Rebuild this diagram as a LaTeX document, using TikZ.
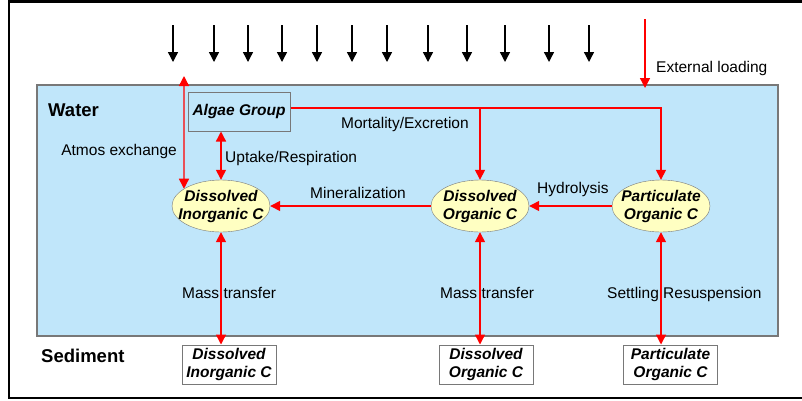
\documentclass[tikz,border=0pt]{standalone}
\usepackage{fontspec}
\setmainfont{Liberation Sans}
\usetikzlibrary{arrows.meta,shapes.geometric}
\definecolor{waterblue}{RGB}{192,230,250}
\definecolor{poolyellow}{RGB}{255,255,194}
\definecolor{edgegray}{RGB}{120,120,120}
\begin{document}
\begin{tikzpicture}[
        x=1pt, y=-1pt,
        >={Triangle[length=10pt,width=10pt]},
        every node/.style={font=\fontsize{15.5}{18}\selectfont, inner sep=0pt},
        zone/.style={font=\fontsize{18.5}{20}\selectfont\bfseries},
        poolc/.style={ellipse, draw=edgegray, fill=poolyellow, minimum width=98pt, minimum height=52pt,
            inner xsep=-10pt, inner ysep=0pt, align=center, font=\fontsize{15.5}{18}\selectfont\bfseries\itshape},
        sedbox/.style={draw=edgegray, line width=1pt, fill=white, minimum width=94pt, minimum height=39pt,
            align=center, font=\fontsize{15.5}{18}\selectfont\bfseries\itshape},
        algbox/.style={draw=edgegray, line width=1pt, fill=waterblue, minimum width=102pt, minimum height=39pt,
            font=\fontsize{15.5}{18}\selectfont\bfseries\itshape},
        flow/.style={draw=red, line width=1.4pt, ->},
        biflow/.style={draw=red, line width=1.4pt, <->},
        rain/.style={draw=black, line width=1.4pt, ->},
    ]
    \useasboundingbox (0,0) rectangle (802,400);
    % frame and water column
    \draw[line width=2.5pt] (806,1.5) -- (9,1.5) -- (9,398) -- (806,398);
    \draw[draw=edgegray, line width=1.2pt, fill=waterblue] (37,85) rectangle (778,336);
    \node[zone, anchor=base west] (water) at (48,116) {Water};
    \node[zone, anchor=base west] (sediment) at (41,362) {Sediment};

    % pools
    \node[algbox] (algae) at (239,111.5) {Algae Group};
    \node[poolc] (dic) at (221,206) {Dissolved\\Inorganic C};
    \node[poolc] (doc) at (480,206) {Dissolved\\Organic C};
    \node[poolc] (poc) at (661,206) {Particulate\\Organic C};
    \node[sedbox] (sdic) at (229,364.5) {Dissolved\\Inorganic C};
    \node[sedbox] (sdoc) at (486,364.5) {Dissolved\\Organic C};
    \node[sedbox] (spoc) at (670.5,364.5) {Particulate\\Organic C};

    % rain
    \foreach \x [count=\i] in {173,214,248,282,317,352,387,428,467,505,549,589}
        \draw[rain] (\x,25) coordinate (rain\i) -- ++(0,37);

    % external loading
    \coordinate (ext) at (645,19);
    \draw[flow] (ext) -- ++(0,69);
    \node[anchor=base west] (extlbl) at (656,72) {External loading};

    % atmosphere
    \coordinate (atm) at (184,76);
    \draw[biflow] (atm) -- (dic.155);
    \node[anchor=base east] (atmlbl) at (177,155) {Atmos exchange};

    % algae
    \draw[biflow] (algae.south -| dic.north) -- (dic.north);
    \node[anchor=base west] (uplbl) at (225,162) {Uptake/Respiration};
    \coordinate (mort) at ([yshift=3.5pt]algae.east);
    \draw[flow] (mort) -- (mort -| poc.north) -- (poc.north);
    \draw[flow] (mort -| doc.north) -- (doc.north);
    \node[anchor=base west] (mortlbl) at (341,128) {Mortality/Excretion};

    % transformations
    \draw[flow] (doc.west) -- (dic.east);
    \node[anchor=base west] (minlbl) at (310,198) {Mineralization};
    \draw[flow] (poc.west) -- (doc.east);
    \node[anchor=base west] (hydlbl) at (537,193) {Hydrolysis};

    % exchange with sediment
    \draw[biflow] (dic.south) -- (dic.south |- sdic.north);
    \draw[biflow] (doc.south) -- (doc.south |- sdoc.north);
    \draw[biflow] (poc.south) -- (poc.south |- spoc.north);
    \node[anchor=base west] (mt1) at (182,298) {Mass transfer};
    \node[anchor=base west] (mt2) at (440,298) {Mass transfer};
    \node[anchor=base west] (setl) at (607,298) {Settling Resuspension};
\end{tikzpicture}
\end{document}
